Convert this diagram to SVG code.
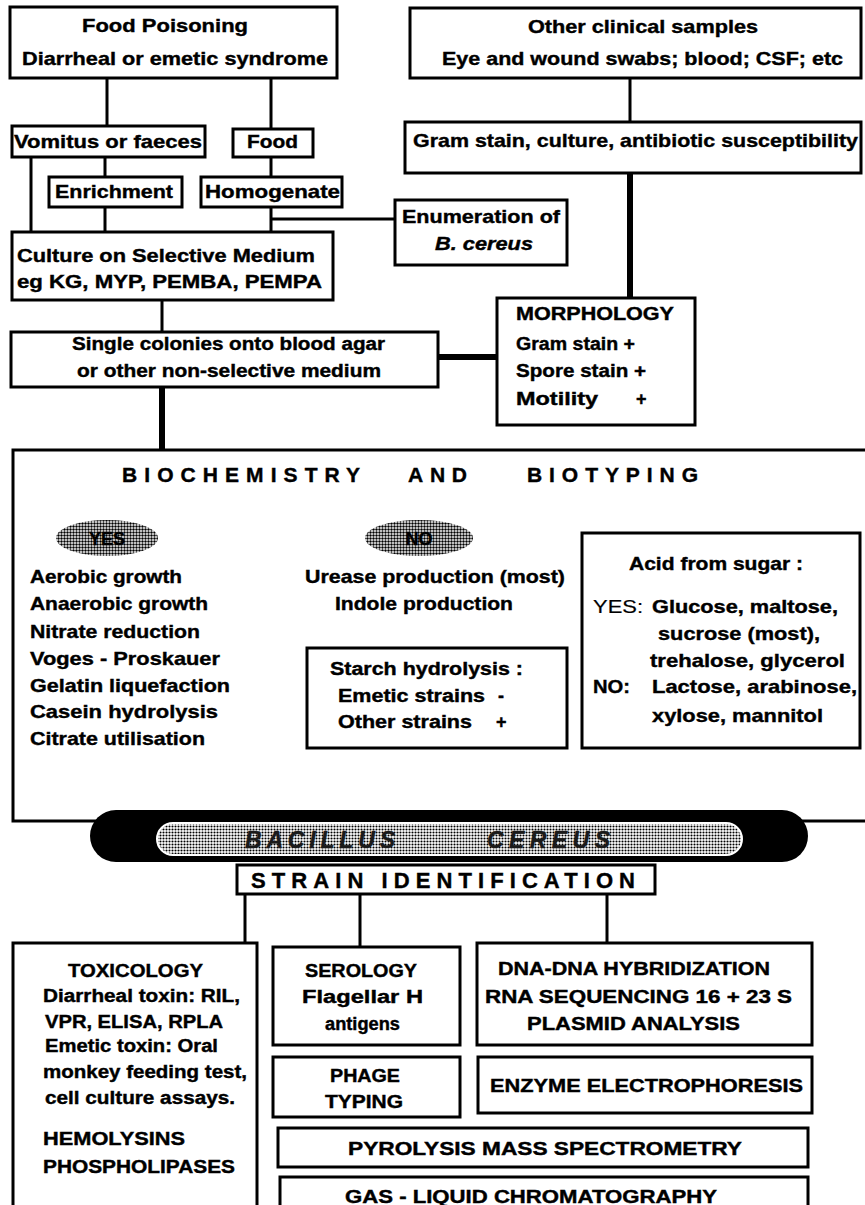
<svg xmlns="http://www.w3.org/2000/svg" width="865" height="1205" viewBox="0 0 865 1205">
<style>
.b{fill:#fff;stroke:#000;stroke-width:3}
.t{font-family:'Liberation Sans',Arial,sans-serif;font-weight:bold;font-size:19px;fill:#000;stroke:#000;stroke-width:0.4}
.m{font-size:18px}
.sp{font-size:21px}
.bn{font-size:23px;font-style:italic;fill:#1a1a1a;stroke:#1a1a1a}
.st{font-size:22px}
.n{font-weight:normal;stroke-width:0.2}
.c{stroke:#000;stroke-width:3;fill:none}
.k{stroke:#000;stroke-width:6;fill:none}
</style>
<defs>
<pattern id="dots" width="3" height="3" patternUnits="userSpaceOnUse">
<rect width="3" height="3" fill="#fff"/>
<circle cx="1.5" cy="1.5" r="1.2" fill="#000"/>
</pattern>
<pattern id="dotsL" width="3" height="3" patternUnits="userSpaceOnUse">
<rect width="3" height="3" fill="#fff"/>
<circle cx="1.5" cy="1.5" r="1.05" fill="#000"/>
</pattern>
</defs>
<rect width="865" height="1205" fill="#fff"/>

<g id="connectors">
<path class="c" d="M107,78V126M271,78V129M630,78V122M31,157V232M105,157V177M105,207V232M271,157V177M271,207V232M271,219H395M162,300V332M245,894V943M360,894V947M607,894V943"/>
<path class="k" d="M630,173V298M438,357H497M162,387V450"/>
</g>

<g id="food-poisoning">
<rect class="b" x="10" y="7" width="327" height="71"/>
<text class="t" x="82" y="32" textLength="166" lengthAdjust="spacingAndGlyphs">Food  Poisoning</text>
<text class="t" x="22" y="65" textLength="306" lengthAdjust="spacingAndGlyphs">Diarrheal or emetic syndrome</text>
</g>
<g id="other-clinical">
<rect class="b" x="410" y="8" width="451" height="70"/>
<text class="t" x="528" y="33" textLength="230" lengthAdjust="spacingAndGlyphs">Other clinical samples</text>
<text class="t" x="442" y="65" textLength="401" lengthAdjust="spacingAndGlyphs">Eye and wound swabs; blood; CSF; etc</text>
</g>
<g id="vomitus">
<rect class="b" x="12" y="126" width="193" height="31"/>
<text class="t" x="14" y="148" textLength="188" lengthAdjust="spacingAndGlyphs">Vomitus or faeces</text>
</g>
<g id="food">
<rect class="b" x="233" y="129" width="80" height="28"/>
<text class="t" x="247" y="148" textLength="51" lengthAdjust="spacingAndGlyphs">Food</text>
</g>
<g id="gram-culture">
<rect class="b" x="405" y="122" width="456" height="51"/>
<text class="t" x="413" y="147" textLength="445" lengthAdjust="spacingAndGlyphs">Gram stain, culture, antibiotic susceptibility</text>
</g>
<g id="enrichment">
<rect class="b" x="49" y="177" width="133" height="30"/>
<text class="t" x="55" y="198" textLength="118" lengthAdjust="spacingAndGlyphs">Enrichment</text>
</g>
<g id="homogenate">
<rect class="b" x="201" y="177" width="141" height="30"/>
<text class="t" x="205" y="198" textLength="135" lengthAdjust="spacingAndGlyphs">Homogenate</text>
</g>
<g id="enumeration">
<rect class="b" x="395" y="200" width="172" height="65"/>
<text class="t" x="402" y="223" textLength="158" lengthAdjust="spacingAndGlyphs">Enumeration of</text>
<text class="t" x="435" y="250" font-style="italic" textLength="98" lengthAdjust="spacingAndGlyphs">B. cereus</text>
</g>
<g id="culture">
<rect class="b" x="12" y="232" width="321" height="68"/>
<text class="t" x="17" y="262" textLength="298" lengthAdjust="spacingAndGlyphs">Culture on Selective Medium</text>
<text class="t" x="17" y="288" textLength="305" lengthAdjust="spacingAndGlyphs">eg KG, MYP, PEMBA, PEMPA</text>
</g>
<g id="single-colonies">
<rect class="b" x="11" y="332" width="427" height="55"/>
<text class="t m" x="72" y="350" textLength="313" lengthAdjust="spacingAndGlyphs">Single colonies onto blood agar</text>
<text class="t m" x="77" y="377" textLength="304" lengthAdjust="spacingAndGlyphs">or other non-selective medium</text>
</g>
<g id="morphology">
<rect class="b" x="497" y="298" width="198" height="127"/>
<text class="t m" x="516" y="320" textLength="158" lengthAdjust="spacingAndGlyphs">MORPHOLOGY</text>
<text class="t m" x="516" y="350" textLength="119" lengthAdjust="spacingAndGlyphs">Gram stain +</text>
<text class="t m" x="516" y="377" textLength="130" lengthAdjust="spacingAndGlyphs">Spore stain +</text>
<text class="t m" x="516" y="405" textLength="82" lengthAdjust="spacingAndGlyphs">Motility</text>
<text class="t m" x="636" y="405">+</text>
</g>

<g id="biochemistry">
<rect class="b" x="13" y="450" width="870" height="371"/>
<text class="t sp" x="122" y="482" textLength="238" lengthAdjust="spacing">BIOCHEMISTRY</text>
<text class="t sp" x="408" y="482" textLength="59" lengthAdjust="spacing">AND</text>
<text class="t sp" x="527" y="482" textLength="171" lengthAdjust="spacing">BIOTYPING</text>
<ellipse cx="107" cy="538" rx="51" ry="18" fill="url(#dots)"/>
<text class="t m" x="107" y="545" text-anchor="middle">YES</text>
<ellipse cx="419" cy="538" rx="54" ry="18" fill="url(#dots)"/>
<text class="t m" x="419" y="545" text-anchor="middle">NO</text>
<text class="t" x="30" y="583" textLength="152" lengthAdjust="spacingAndGlyphs">Aerobic growth</text>
<text class="t" x="30" y="610" textLength="178" lengthAdjust="spacingAndGlyphs">Anaerobic growth</text>
<text class="t" x="30" y="638" textLength="170" lengthAdjust="spacingAndGlyphs">Nitrate reduction</text>
<text class="t" x="30" y="665" textLength="190" lengthAdjust="spacingAndGlyphs">Voges - Proskauer</text>
<text class="t" x="30" y="692" textLength="200" lengthAdjust="spacingAndGlyphs">Gelatin liquefaction</text>
<text class="t" x="30" y="718" textLength="188" lengthAdjust="spacingAndGlyphs">Casein hydrolysis</text>
<text class="t" x="30" y="745" textLength="175" lengthAdjust="spacingAndGlyphs">Citrate utilisation</text>
<text class="t" x="305" y="583" textLength="260" lengthAdjust="spacingAndGlyphs">Urease production (most)</text>
<text class="t" x="335" y="610" textLength="178" lengthAdjust="spacingAndGlyphs">Indole production</text>
</g>
<g id="starch">
<rect class="b" x="307" y="648" width="260" height="100"/>
<text class="t m" x="330" y="675" textLength="193" lengthAdjust="spacingAndGlyphs">Starch hydrolysis :</text>
<text class="t m" x="338" y="702" textLength="147" lengthAdjust="spacingAndGlyphs">Emetic strains</text>
<text class="t m" x="498" y="702">-</text>
<text class="t m" x="338" y="728" textLength="134" lengthAdjust="spacingAndGlyphs">Other strains</text>
<text class="t m" x="496" y="728">+</text>
</g>
<g id="acid-sugar">
<rect class="b" x="582" y="533" width="278" height="215"/>
<text class="t" x="629" y="570" textLength="174" lengthAdjust="spacingAndGlyphs">Acid from sugar :</text>
<text class="t n" x="593" y="613" textLength="50" lengthAdjust="spacingAndGlyphs">YES:</text>
<text class="t" x="652" y="613" textLength="186" lengthAdjust="spacingAndGlyphs">Glucose, maltose,</text>
<text class="t" x="658" y="640" textLength="162" lengthAdjust="spacingAndGlyphs">sucrose (most),</text>
<text class="t" x="650" y="667" textLength="195" lengthAdjust="spacingAndGlyphs">trehalose, glycerol</text>
<text class="t" x="593" y="693" textLength="37" lengthAdjust="spacingAndGlyphs">NO:</text>
<text class="t" x="652" y="693" textLength="205" lengthAdjust="spacingAndGlyphs">Lactose, arabinose,</text>
<text class="t" x="652" y="722" textLength="171" lengthAdjust="spacingAndGlyphs">xylose, mannitol</text>
</g>

<g id="bacillus-cereus">
<rect x="90" y="810" width="718" height="52" rx="26" fill="#000"/>
<rect x="157" y="823" width="585" height="32" rx="16" fill="url(#dotsL)" stroke="#fff" stroke-width="2"/>
<text class="t bn" x="245" y="848" textLength="150" lengthAdjust="spacing">BACILLUS</text>
<text class="t bn" x="487" y="848" textLength="123" lengthAdjust="spacing">CEREUS</text>
</g>
<g id="strain-identification">
<rect class="b" x="237" y="865" width="418" height="29"/>
<text class="t st" x="251" y="888" textLength="384" lengthAdjust="spacing">STRAIN IDENTIFICATION</text>
</g>

<g id="toxicology">
<rect class="b" x="13" y="943" width="244" height="280"/>
<text class="t m" x="68" y="977" textLength="135" lengthAdjust="spacingAndGlyphs">TOXICOLOGY</text>
<text class="t m" x="43" y="1002" textLength="197" lengthAdjust="spacingAndGlyphs">Diarrheal toxin: RIL,</text>
<text class="t m" x="45" y="1028" textLength="178" lengthAdjust="spacingAndGlyphs">VPR, ELISA, RPLA</text>
<text class="t m" x="45" y="1052" textLength="173" lengthAdjust="spacingAndGlyphs">Emetic toxin: Oral</text>
<text class="t m" x="43" y="1078" textLength="204" lengthAdjust="spacingAndGlyphs">monkey feeding test,</text>
<text class="t m" x="45" y="1104" textLength="190" lengthAdjust="spacingAndGlyphs">cell culture assays.</text>
<text class="t m" x="43" y="1145" textLength="142" lengthAdjust="spacingAndGlyphs">HEMOLYSINS</text>
<text class="t m" x="43" y="1173" textLength="192" lengthAdjust="spacingAndGlyphs">PHOSPHOLIPASES</text>
</g>
<g id="serology">
<rect class="b" x="273" y="947" width="187" height="98"/>
<text class="t m" x="305" y="977" textLength="112" lengthAdjust="spacingAndGlyphs">SEROLOGY</text>
<text class="t m" x="302" y="1003" textLength="121" lengthAdjust="spacingAndGlyphs">Flagellar  H</text>
<text class="t m" x="325" y="1030" textLength="75" lengthAdjust="spacingAndGlyphs">antigens</text>
</g>
<g id="dna">
<rect class="b" x="477" y="943" width="335" height="102"/>
<text class="t m" x="498" y="975" textLength="272" lengthAdjust="spacingAndGlyphs">DNA-DNA HYBRIDIZATION</text>
<text class="t m" x="485" y="1003" textLength="307" lengthAdjust="spacingAndGlyphs">RNA  SEQUENCING 16 + 23 S</text>
<text class="t m" x="527" y="1030" textLength="213" lengthAdjust="spacingAndGlyphs">PLASMID  ANALYSIS</text>
</g>
<g id="phage">
<rect class="b" x="273" y="1057" width="187" height="60"/>
<text class="t m" x="330" y="1082" textLength="70" lengthAdjust="spacingAndGlyphs">PHAGE</text>
<text class="t m" x="325" y="1108" textLength="78" lengthAdjust="spacingAndGlyphs">TYPING</text>
</g>
<g id="enzyme">
<rect class="b" x="478" y="1057" width="334" height="56"/>
<text class="t m" x="490" y="1092" textLength="313" lengthAdjust="spacingAndGlyphs">ENZYME ELECTROPHORESIS</text>
</g>
<g id="pyrolysis">
<rect class="b" x="278" y="1128" width="530" height="39"/>
<text class="t m" x="348" y="1155" textLength="394" lengthAdjust="spacingAndGlyphs">PYROLYSIS  MASS  SPECTROMETRY</text>
</g>
<g id="gas-liquid">
<rect class="b" x="280" y="1177" width="528" height="45"/>
<text class="t m" x="345" y="1203" textLength="372" lengthAdjust="spacingAndGlyphs">GAS - LIQUID  CHROMATOGRAPHY</text>
</g>
</svg>
